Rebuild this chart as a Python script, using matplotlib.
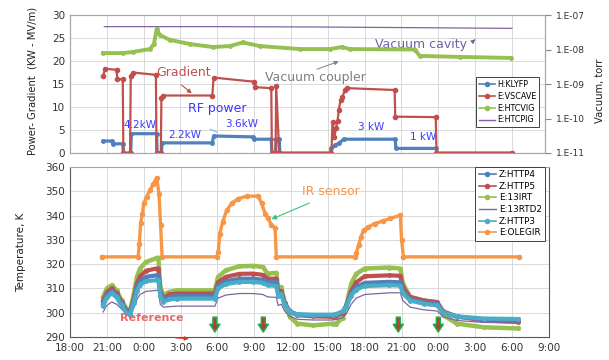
import matplotlib
matplotlib.use("Agg")
import matplotlib.pyplot as plt
from matplotlib.lines import Line2D
from matplotlib.ticker import FixedLocator, NullLocator

# hours since 18:00 of the first day
hour_ticks = [0, 3, 6, 9, 12, 15, 18, 21, 24, 27, 30, 33, 36, 39]
hour_labels = ["18:00", "21:00", "0:00", "3:00", "6:00", "9:00", "12:00",
               "15:00", "18:00", "21:00", "0:00", "3:00", "6:00", "9:00"]

# ---- top panel: RF power, gradient, vacuum ----
klyfp_t = [2.7, 3.4, 3.5, 4.3, 4.35, 4.95, 5.0, 7.05, 7.1, 7.45, 7.5, 11.6, 11.7,
           14.9, 15.0, 16.4, 16.45, 16.75, 16.8, 17.05, 17.1, 21.2, 21.3, 21.6,
           21.9, 22.3, 26.5, 26.55, 29.85, 29.9, 36.0]
klyfp = [2.6, 2.6, 2.0, 2.0, 0, 0, 4.2, 4.2, 0, 0, 2.2, 2.2, 3.7,
         3.5, 3.0, 3.0, 0, 0, 3.0, 3.0, 0, 0, 1.0, 1.7,
         2.1, 3.0, 3.0, 1.0, 1.0, 0, 0]

vscave_t = [2.7, 2.85, 3.8, 3.85, 4.3, 4.35, 4.9, 4.95, 5.1, 7.0, 7.05, 7.4, 7.45,
            7.6, 11.6, 11.7, 15.0, 15.1, 16.4, 16.45, 16.75, 16.8, 17.05, 21.3,
            21.39, 21.55, 21.66, 21.8, 21.9, 22.04, 22.2, 22.4, 22.58, 26.45,
            26.5, 29.8, 29.86, 36.0]
vscave = [16.7, 18.3, 18.1, 16.1, 16.0, 0, 0, 16.7, 17.5, 17.0, 0, 0, 12.0,
          12.5, 12.5, 16.4, 15.5, 14.3, 14.1, 0, 0, 14.5, 0, 0,
          6.8, 3.5, 5.4, 7.0, 9.3, 11.5, 12.2, 13.7, 14.1, 13.7,
          7.9, 7.8, 0, 0]

htcvig_t = [2.69, 4.32, 5.13, 6.51, 6.84, 7.06, 7.33, 8.14, 9.77, 11.64, 13.03,
            14.09, 15.47, 18.73, 21.17, 22.15, 22.8, 28.09, 28.5, 31.76, 35.9]
htcvig = [7.9e-9, 7.9e-9, 8.5e-9, 1.03e-8, 1.44e-8, 3.9e-8, 2.6e-8, 1.9e-8,
          1.44e-8, 1.18e-8, 1.26e-8, 1.6e-8, 1.26e-8, 1.03e-8, 1.03e-8,
          1.18e-8, 1.03e-8, 1.0e-8, 6.5e-9, 6.1e-9, 5.7e-9]

htcpig_t = [2.8, 12.0, 20.0, 28.0, 36.0]
htcpig = [4.6e-8, 4.6e-8, 4.5e-8, 4.3e-8, 4.1e-8]

# ---- bottom panel: temperatures ----
temp_t = [2.7, 3.0, 3.4, 3.8, 4.2, 4.6, 4.9, 5.2, 5.45, 5.7, 6.2, 7.05, 7.2,
          7.35, 7.6, 8.1, 8.7, 11.8, 12.05, 12.7, 13.8, 14.9, 15.7, 16.1, 16.8,
          16.95, 17.2, 17.5, 17.9, 18.5, 19.8, 21.4, 21.7, 22.2, 22.5, 22.9,
          23.3, 24.0, 26.0, 26.9, 27.1, 27.7, 28.8, 29.9, 30.4, 31.5, 33.7, 36.5]
http4 = [303.8, 307.5, 309, 307.2, 303.8, 300.5, 300, 305, 310.5, 313,
         314.8, 315.4, 315.4, 308, 305.2, 306.5, 306.8, 306.8, 311, 313,
         314, 314, 313.6, 312.5, 312.5, 308, 308, 303.5, 300.5, 299.3,
         299, 299, 299.3, 300.5, 303, 308, 310.5, 312.3, 312.7, 312.5,
         309, 305.5, 304.2, 303.8, 300, 298.3, 297.3, 296.9]
http5 = [305, 308.5, 310, 308, 304.5, 301, 300.5, 306, 312, 315,
         317.3, 318.2, 318.2, 309, 306, 307.5, 307.9, 307.9, 312.5, 314.8,
         316, 316.1, 315.6, 314, 314, 309, 309, 304, 300.5, 299,
         298.5, 298.3, 298.5, 300, 303, 309, 312.5, 315, 315.4, 315.2,
         310.5, 306.5, 305, 304.4, 300.5, 298.5, 296.8, 296.2]
irt13 = [306.5, 310, 311.3, 309.2, 305.1, 301.7, 301, 307.9, 314.7, 318.2,
         320.9, 322.5, 322.7, 310.6, 307.2, 308.6, 309.2, 309.2, 314.7, 317.5,
         319.1, 319.3, 318.8, 316.1, 316.4, 310, 310.6, 303.8, 298.3, 295.5,
         294.8, 295.5, 295.5, 298, 303, 312, 316, 318.2, 318.6, 318.2,
         312, 306.5, 305.1, 304.2, 299, 295.5, 294, 293.5]
rtd2 = [300.3, 303, 304.4, 303.5, 301.5, 299.8, 299.3, 302, 305.5, 307.5,
        308.8, 309.2, 309.2, 303.5, 302.3, 302.5, 302.7, 302.7, 306, 307.3,
        307.9, 307.9, 307.5, 306.5, 306.3, 303, 303.5, 300.5, 298.5, 297.3,
        297, 297, 297.2, 298, 299.5, 303.5, 306, 307.5, 308.2, 308.2,
        305, 302.3, 301.2, 300.7, 298.3, 296.8, 296, 295.8]
http3 = [302.8, 306.3, 308, 306.3, 303, 299.8, 299, 304, 309, 311.5,
         313, 313.4, 313.4, 307, 304.5, 305.5, 305.8, 305.8, 310, 311.8,
         312.7, 312.7, 312.3, 311.3, 311, 307, 307.5, 303, 300.3, 299.3,
         299.2, 299.2, 299.5, 300.5, 302.5, 307, 309.5, 311, 311.3, 311.2,
         308, 305, 303.7, 303, 300, 298.5, 297.6, 297.4]

olegir_t = [2.6, 5.55, 5.65, 5.75, 5.9, 6.0, 6.24, 6.5, 6.8, 7.06, 7.25, 7.38, 7.5,
            11.95, 12.07, 12.2, 12.43, 12.76, 13.16, 13.7, 14.4, 15.33, 15.6,
            15.9, 16.15, 16.4, 16.7, 16.8, 23.2, 23.3, 23.5, 23.7, 23.9, 24.3,
            24.8, 25.5, 26.05, 26.9, 27.0, 27.15, 36.6]
olegir = [323, 323, 328.5, 337, 340.5, 345, 347.7, 350.4, 353.1, 355.6, 349, 336, 323,
          323, 325, 332.6, 337.4, 342.2, 345, 347, 348, 348, 345,
          340.8, 338.8, 336, 335, 323, 323, 324.4, 327.8, 331.2, 334, 335.3,
          336.7, 337.8, 338.8, 340.1, 330, 323, 323]

cooldown_marks = [11.8, 15.74, 26.73, 29.99]

c_blue = "#4f81bd"
c_red = "#c0504d"
c_green = "#96c050"
c_purple = "#8064a2"
c_cyan = "#4bacc6"
c_orange = "#f79646"
c_text_blue = "#3a3aff"

fig = plt.figure(figsize=(6.09, 3.6), dpi=100)

# ================= top panel =================
ax1 = fig.add_axes([0.1149, 0.575, 0.780, 0.3833])
ax1r = ax1.twinx()

ax1.plot(klyfp_t, klyfp, color=c_blue, lw=2.3, marker="o", ms=2.5, zorder=3)
ax1.plot(vscave_t, vscave, color=c_red, lw=1.6, marker="o", ms=3, zorder=4)
ax1r.plot(htcvig_t, htcvig, color=c_green, lw=2.8, marker="o", ms=2.5)
ax1r.plot(htcpig_t, htcpig, color=c_purple, lw=0.9)

ax1.set_xlim(0, 38.7)
ax1.set_ylim(0, 30)
ax1.set_yticks(range(0, 31, 5))
ax1.set_xticks(hour_ticks[:-1])
ax1.set_xticklabels([])
ax1.grid(True, color="#d9d9d9", lw=0.7)
ax1.set_axisbelow(True)
ax1.tick_params(axis="both", length=0, labelsize=7.5, colors="#333333")
ax1.set_ylabel("Power- Gradient  (KW - MV/m)", fontsize=7.2, color="#222222")
ax1.yaxis.set_label_coords(-0.069, 0.52)

ax1r.set_yscale("log")
ax1r.set_ylim(1e-11, 1e-7)
ax1r.yaxis.set_major_locator(FixedLocator([1e-11, 1e-10, 1e-9, 1e-8, 1e-7]))
ax1r.yaxis.set_minor_locator(NullLocator())
ax1r.set_yticklabels(["1.E-11", "1.E-10", "1.E-09", "1.E-08", "1.E-07"])
ax1r.tick_params(axis="y", length=4, width=0.8, labelsize=6.5, pad=4,
                 colors="#888888", labelcolor="#333333")
ax1r.set_ylabel("Vacuum, torr", fontsize=7.2, color="#222222")
ax1r.yaxis.set_label_coords(1.106, 0.45)
for a in (ax1, ax1r):
    for s in a.spines.values():
        s.set_color("#a6a6a6")
        s.set_linewidth(0.8)

ax1.text(9.28, 17.45, "Gradient", color=c_red, fontsize=9, ha="center", va="center")
ax1.annotate("", xy=(10.1, 12.6), xytext=(8.9, 15.2),
             arrowprops=dict(arrowstyle="-|>", color=c_red, lw=0.8, mutation_scale=6))
ax1.text(11.97, 9.57, "RF power", color=c_text_blue, fontsize=9, ha="center", va="center")
ax1.text(5.7, 6.1, "4.2kW", color=c_text_blue, fontsize=7.5, ha="center", va="center")
ax1.text(9.36, 3.9, "2.2kW", color=c_text_blue, fontsize=7.5, ha="center", va="center")
ax1.text(14.0, 6.3, "3.6kW", color=c_text_blue, fontsize=7.5, ha="center", va="center")
ax1.annotate("", xy=(12.2, 4.3), xytext=(11.2, 5.4),
             arrowprops=dict(arrowstyle="-", color="#8ab4d8", lw=0.8))
ax1.text(24.57, 5.7, "3 kW", color=c_text_blue, fontsize=7.5, ha="center", va="center")
ax1.text(28.75, 3.5, "1 kW", color=c_text_blue, fontsize=7.5, ha="center", va="center")
ax1.text(20.0, 16.5, "Vacuum coupler", color="#7f7f7f", fontsize=9, ha="center", va="center")
ax1.annotate("", xy=(22.1, 20.1), xytext=(19.9, 18.0),
             arrowprops=dict(arrowstyle="-|>", color="#7f7f7f", lw=0.7, mutation_scale=6))
ax1.text(28.6, 23.5, "Vacuum cavity", color="#6f5fa6", fontsize=9, ha="center", va="center")
ax1.annotate("", xy=(33.2, 25.1), xytext=(32.8, 24.2),
             arrowprops=dict(arrowstyle="-|>", color="#6f5fa6", lw=0.7, mutation_scale=6))

top_handles = [
    Line2D([], [], color=c_blue, lw=1.2, marker="o", ms=3),
    Line2D([], [], color=c_red, lw=1.2, marker="o", ms=3),
    Line2D([], [], color=c_green, lw=1.2, marker="o", ms=3),
    Line2D([], [], color=c_purple, lw=1.0),
]
leg = ax1r.legend(top_handles, ["H:KLYFP", "E:VSCAVE", "E:HTCVIG", "E:HTCPIG"],
                  loc="upper right", bbox_to_anchor=(0.988, 0.55), fontsize=5.8,
                  frameon=True, fancybox=False, edgecolor="#404040", framealpha=1,
                  handlelength=2.0, handletextpad=0.3, labelspacing=0.35,
                  borderpad=0.35, borderaxespad=0)
leg.get_frame().set_linewidth(0.7)

# ================= bottom panel =================
ax2 = fig.add_axes([0.1149, 0.0639, 0.7865, 0.4722])

ax2.plot(olegir_t, olegir, color=c_orange, lw=2.4, marker="o", ms=3, zorder=3)
ax2.plot(temp_t, irt13, color=c_green, lw=3.2, marker="o", ms=2.5, zorder=3)
ax2.plot(temp_t, http5, color=c_red, lw=3.0, marker="o", ms=2.5, zorder=3)
ax2.plot(temp_t, http4, color=c_blue, lw=3.0, marker="o", ms=2.5, zorder=3)
ax2.plot(temp_t, rtd2, color=c_purple, lw=0.9, zorder=3)
ax2.plot(temp_t, http3, color=c_cyan, lw=3.0, marker="o", ms=2.5, zorder=3)

ax2.set_xlim(0, 39)
ax2.set_ylim(290, 360)
ax2.set_yticks(range(290, 361, 10))
ax2.set_xticks(hour_ticks)
ax2.set_xticklabels(hour_labels)
ax2.grid(True, color="#d9d9d9", lw=0.7)
ax2.set_axisbelow(True)
ax2.tick_params(axis="both", length=0, labelsize=7.5, colors="#333333")
ax2.tick_params(axis="x", pad=4)
ax2.set_ylabel("Temperature, K", fontsize=7.5, color="#222222")
ax2.yaxis.set_label_coords(-0.092, 0.5)
for s in ax2.spines.values():
    s.set_color("#595959")
    s.set_linewidth(0.8)
ax2.spines["top"].set_color("#a6a6a6")

ax2.text(21.25, 350.1, "IR sensor", color=c_orange, fontsize=9, ha="center", va="center")
ax2.annotate("", xy=(16.2, 338.1), xytext=(19.7, 345.6),
             arrowprops=dict(arrowstyle="-|>", color="#33c47a", lw=0.8, mutation_scale=7))
ax2.text(6.65, 297.9, "Reference", color="#e8696b", fontsize=8, fontweight="bold",
         ha="center", va="center")
ax2.annotate("", xy=(9.9, 289.2), xytext=(8.4, 289.7), annotation_clip=False,
             arrowprops=dict(arrowstyle="-|>", color="#e03030", lw=0.8, mutation_scale=6))
for h in cooldown_marks:
    ax2.annotate("", xy=(h, 290.9), xytext=(h, 299.3),
                 arrowprops=dict(arrowstyle="simple,head_width=0.9,head_length=0.7,tail_width=0.35",
                                 fc="#b04030", ec="#1fae4e", lw=1.1, mutation_scale=8))

bottom_handles = [
    Line2D([], [], color=c_blue, lw=1.2, marker="o", ms=3),
    Line2D([], [], color=c_red, lw=1.2, marker="o", ms=3),
    Line2D([], [], color=c_green, lw=1.2, marker="o", ms=3),
    Line2D([], [], color=c_purple, lw=1.0),
    Line2D([], [], color=c_cyan, lw=1.2, marker="o", ms=3),
    Line2D([], [], color=c_orange, lw=1.2, marker="o", ms=3),
]
leg2 = ax2.legend(bottom_handles, ["Z:HTTP4", "Z:HTTP5", "E:13IRT", "E:13RTD2", "Z:HTTP3", "E:OLEGIR"],
                  loc="upper right", bbox_to_anchor=(0.992, 1.0), fontsize=6.4,
                  frameon=True, fancybox=False, edgecolor="#404040", framealpha=1,
                  handlelength=2.0, handletextpad=0.3, labelspacing=0.3,
                  borderpad=0.35, borderaxespad=0)
leg2.get_frame().set_linewidth(0.7)

fig.savefig("out.png", dpi=100, facecolor="white")
